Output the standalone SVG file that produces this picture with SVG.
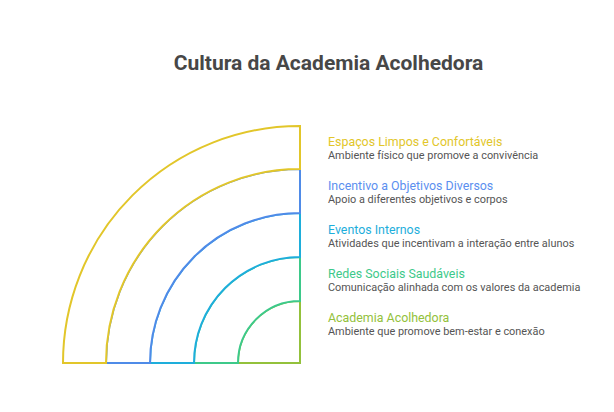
<svg xmlns="http://www.w3.org/2000/svg" width="614" height="412" viewBox="0 0 614 412">
<style>
.title{font-family:Roboto,"Liberation Sans",sans-serif;font-weight:bold;font-size:21px;fill:#474747}
.lbl{font-family:Roboto,"Liberation Sans",sans-serif;font-size:12.4px}
.desc{font-family:Roboto,"Liberation Sans",sans-serif;font-size:10.9px;fill:#555555}
.ring{fill:#ffffff;stroke-width:2;stroke-linejoin:miter}
</style>
<rect width="614" height="412" fill="#ffffff"/>
<text class="title" x="328.5" y="70" text-anchor="middle">Cultura da Academia Acolhedora</text>
<g id="rings">
<g id="n5"><path class="ring" stroke="#93C13B" d="M300,363 L238,363 A62,62 0 0 1 300,301 Z"/></g>
<g id="n4"><path class="ring" stroke="#3DC98A" d="M238,363 L194,363 A106,106 0 0 1 300,257 L300,301 A62,62 0 0 0 238,363 Z"/></g>
<g id="n3"><path class="ring" stroke="#1EAEDB" d="M194,363 L150,363 A150,150 0 0 1 300,213 L300,257 A106,106 0 0 0 194,363 Z"/></g>
<g id="n2"><path class="ring" stroke="#4F8BE8" d="M150,363 L106,363 A194,194 0 0 1 300,169 L300,213 A150,150 0 0 0 150,363 Z"/></g>
<g id="n1"><path class="ring" stroke="#E2C62A" d="M106,363 L63,363 A237,237 0 0 1 300,126 L300,169 A194,194 0 0 0 106,363 Z"/></g>
</g>
<g id="labels">
<g id="t1"><text class="lbl" x="328" y="145.5" fill="#E2C62A">Espaços Limpos e Confortáveis</text><text class="desc" x="328" y="158.5">Ambiente físico que promove a convivência</text></g>
<g id="t2"><text class="lbl" x="328" y="189.5" fill="#5B8FEF">Incentivo a Objetivos Diversos</text><text class="desc" x="328" y="202.5">Apoio a diferentes objetivos e corpos</text></g>
<g id="t3"><text class="lbl" x="328" y="233.5" fill="#1EAEDB">Eventos Internos</text><text class="desc" x="328" y="246.5">Atividades que incentivam a interação entre alunos</text></g>
<g id="t4"><text class="lbl" x="328" y="277.5" fill="#3DC98A">Redes Sociais Saudáveis</text><text class="desc" x="328" y="290.5">Comunicação alinhada com os valores da academia</text></g>
<g id="t5"><text class="lbl" x="328" y="321.5" fill="#93C13B">Academia Acolhedora</text><text class="desc" x="328" y="334.5">Ambiente que promove bem-estar e conexão</text></g>
</g>
</svg>
